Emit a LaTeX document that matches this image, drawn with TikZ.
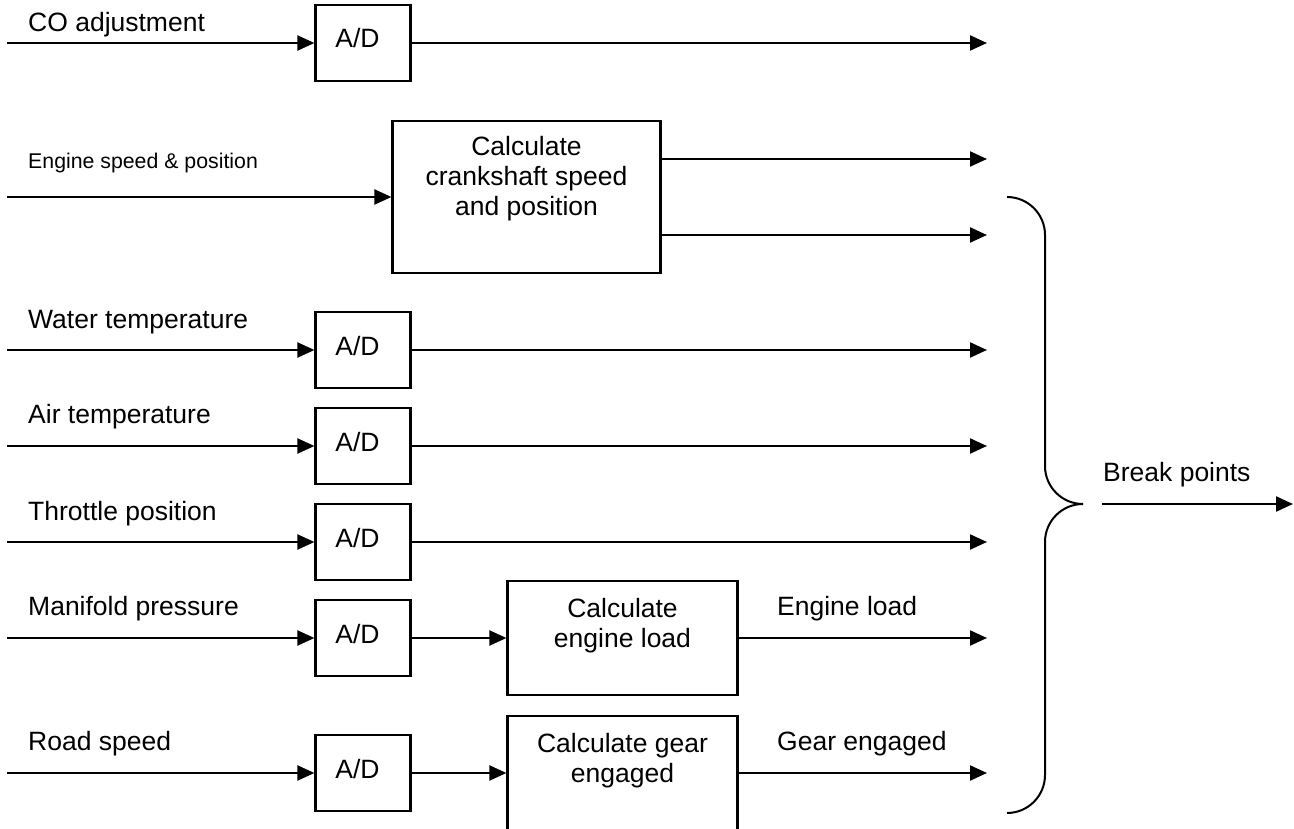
\documentclass[tikz,border=0pt]{standalone}
\usepackage{fontspec}
\setmainfont{Liberation Sans}
\usetikzlibrary{arrows.meta}
\newcommand\lblsize{\fontsize{26.5}{30}\selectfont}
\newcommand\smalllblsize{\fontsize{21.3}{25}\selectfont}
\begin{document}
\begin{tikzpicture}[x=1pt,y=-1pt,
  wire/.style={line width=2.2pt},
  thinwire/.style={line width=1.1pt},
  flow/.style={wire,-{Triangle[length=17pt,width=15pt]}},
  adbox/.style={draw,line width=2.2pt,minimum width=95pt,minimum height=76pt,
    inner sep=0pt,font=\lblsize,text height=18.6pt,text depth=8.6pt},
  calcbox/.style={draw,line width=2.2pt,inner sep=0pt},
  lbl/.style={anchor=base west,inner sep=0pt,font=\lblsize},
  boxtext/.style={anchor=north,align=center,inner sep=0pt,font=\lblsize},
]
\clip (0,0) rectangle (1294,829);
\fill[white] (0,0) rectangle (1294,829);

% ---- converters ----
\node[adbox] (adCO) at (363,43)  {A/D\kern11pt};
\node[adbox] (adWT) at (363,350) {A/D\kern11pt};
\node[adbox] (adAT) at (363,446) {A/D\kern11pt};
\node[adbox] (adTP) at (363,542) {A/D\kern11pt};
\node[adbox] (adMP) at (363,638) {A/D\kern11pt};
\node[adbox] (adRS) at (363,773) {A/D\kern11pt};

% ---- calculation blocks ----
\node[calcbox,minimum width=268pt,minimum height=152pt] (crank) at (526.5,197) {};
\node[boxtext] (crankT) at (526.5,136) {Calculate\\crankshaft speed\\and position};
\node[calcbox,minimum width=230pt,minimum height=114pt] (load) at (622.5,638) {};
\node[boxtext] (loadT) at (622.5,598) {Calculate\\engine load};
\node[calcbox,minimum width=230pt,minimum height=114pt] (gear) at (622.5,773) {};
\node[boxtext] (gearT) at (622.5,733) {Calculate gear\\engaged};

% ---- labels ----
\node[lbl] (tCO) at (28,32)  {CO adjustment};
\node[lbl,font=\smalllblsize] (tES) at (28,169) {Engine speed \& position};
\node[lbl] (tWT) at (28,328) {Water temperature};
\node[lbl] (tAT) at (28,423) {Air temperature};
\node[lbl] (tTP) at (28,520) {Throttle position};
\node[lbl] (tMP) at (28,615) {Manifold pressure};
\node[lbl] (tRS) at (28,750) {Road speed};
\node[lbl] (tEL) at (777,615) {Engine load};
\node[lbl] (tGE) at (777,750) {Gear engaged};
\node[lbl] (tBP) at (1103,481) {Break points};

% ---- input ends ----
\coordinate (inCO) at (7,43);
\coordinate (inES) at (7,197);
\coordinate (inWT) at (7,350);
\coordinate (inAT) at (7,446);
\coordinate (inTP) at (7,542);
\coordinate (jTP)  at (258,542);
\coordinate (inMP) at (7,638);
\coordinate (inRS) at (7,773);

% ---- output ends ----
\coordinate (oCO) at (987,43);
\coordinate (oC1) at (987,159);
\coordinate (oC2) at (987,235);
\coordinate (oWT) at (987,350);
\coordinate (oAT) at (987,446);
\coordinate (oTP) at (987,542);
\coordinate (oEL) at (987,638);
\coordinate (oGE) at (987,773);
\coordinate (bpS) at (1102,504);
\coordinate (bpE) at (1293,504);

% ---- signal flow ----
\draw[flow] (inCO) -- (adCO);
\draw[flow] (adCO) -- (oCO);
\draw[flow] (inES) -- (crank);
\draw[flow] (crank.east |- oC1) -- (oC1);
\draw[flow] (crank.east |- oC2) -- (oC2);
\draw[flow] (inWT) -- (adWT);
\draw[flow] (adWT) -- (oWT);
\draw[flow] (inAT) -- (adAT);
\draw[flow] (adAT) -- (oAT);
\draw[thinwire] (inTP) -- (jTP);
\draw[flow] (jTP) -- (adTP);
\draw[flow] (adTP) -- (oTP);
\draw[flow] (inMP) -- (adMP);
\draw[flow] (adMP) -- (load);
\draw[flow] (load) -- (oEL);
\draw[flow] (inRS) -- (adRS);
\draw[flow] (adRS) -- (gear);
\draw[flow] (gear) -- (oGE);

% ---- collecting brace ----
\draw[line width=2pt] (1007,197) .. controls (1028,197) and (1045,214) .. (1045,235)
  -- (1045,466) .. controls (1045,487) and (1062,504) .. (1083,504)
  .. controls (1062,504) and (1045,521) .. (1045,542)
  -- (1045,775) .. controls (1045,796) and (1028,813) .. (1007,813);
\draw[flow] (bpS) -- (bpE);
\end{tikzpicture}
\end{document}
